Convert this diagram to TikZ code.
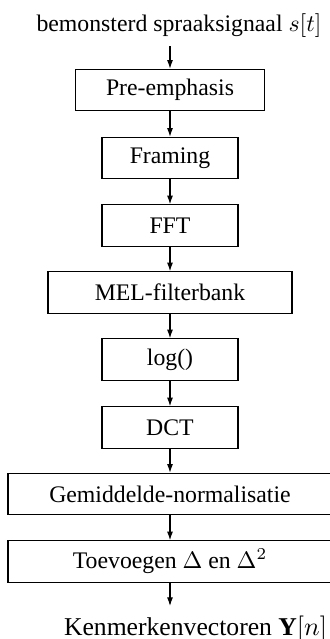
\documentclass[tikz,border=0pt]{standalone}
\usepackage{fontspec}
\setmainfont{Liberation Serif}
\usetikzlibrary{arrows.meta}
\begin{document}
\begin{tikzpicture}[x=0.421pt,y=-0.421pt,
  blok/.style={draw, line width=0.45pt, inner sep=0pt,
    minimum height=41.5*0.421pt, font=\fontsize{10}{12}\selectfont},
  pijl/.style={-{Latex[length=3.6pt,width=2.5pt]}, line width=0.45pt},
  tekst/.style={inner xsep=0pt, inner ysep=3.8pt, anchor=base,
    font=\fontsize{10}{12}\selectfont}]
\useasboundingbox (0,0) rectangle (330,639);

% input and output labels
\node[tekst] (in) at (179,31) {bemonsterd spraaksignaal $s[t]$};
\node[tekst, font=\fontsize{10.8}{13}\selectfont] (uit) at (195.5,635)
  {Kenmerkenvectoren $\mathbf{Y}[n]$};

% processing chain
\node[blok, minimum width=189*0.421pt] (pre)  at (170,90)    {Pre-emphasis};
\node[blok, minimum width=136*0.421pt] (fram) at (170,158)   {Framing};
\node[blok, minimum width=136*0.421pt] (fft)  at (170,225.5) {FFT};
\node[blok, minimum width=244*0.421pt] (mel)  at (170,292.5) {MEL-filterbank};
\node[blok, minimum width=136*0.421pt] (log)  at (170,359.5) {log()};
\node[blok, minimum width=136*0.421pt] (dct)  at (170,427.5) {DCT};
\node[blok, minimum width=324*0.421pt] (gem)  at (170,494)   {Gemiddelde-normalisatie};
\node[blok, minimum width=324*0.421pt] (toe)  at (170,561.5) {Toevoegen $\Delta$ en $\Delta^2$};

% connectors
\draw[pijl] (pre.north |- in.south) -- (pre);
\draw[pijl] (pre) -- (fram);
\draw[pijl] (fram) -- (fft);
\draw[pijl] (fft) -- (mel);
\draw[pijl] (mel) -- (log);
\draw[pijl] (log) -- (dct);
\draw[pijl] (dct) -- (gem);
\draw[pijl] (gem) -- (toe);
\draw[pijl] (toe) -- (toe.south |- uit.north);
\end{tikzpicture}
\end{document}
